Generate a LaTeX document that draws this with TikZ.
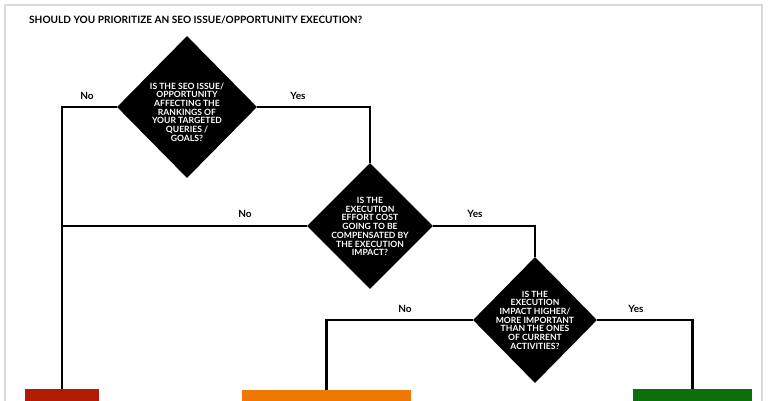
\documentclass[tikz,border=0pt]{standalone}
\usepackage{fontspec}
\setmainfont{Lato}
\usetikzlibrary{shapes.geometric}
\definecolor{framegray}{HTML}{D9D9D9}
\definecolor{boxred}{HTML}{B31B00}
\definecolor{boxorange}{HTML}{F07800}
\definecolor{boxgreen}{HTML}{0A6E0A}
\tikzset{
  decision/.style={diamond, fill=black, inner sep=0pt, draw=none},
  dtext/.style={text=white, font=\fontsize{8.6}{8.7}\selectfont\bfseries, align=center, inner sep=0pt},
  flow/.style={line width=2.6pt, draw=black},
  answer/.style={font=\fontsize{10}{11}\selectfont\bfseries, inner sep=0pt},
  outcome/.style={anchor=north, inner sep=0pt, minimum height=40pt}
}
\begin{document}
\begin{tikzpicture}[x=1pt,y=-1pt]
\useasboundingbox (0,0) rectangle (768,400);
\clip (0,0) rectangle (768,400);
\fill[white] (0,0) rectangle (768,400);
\draw[framegray, line width=2pt] (5,430) -- (5,5) -- (762,5) -- (762,430);
\node[anchor=west, inner sep=0pt, font=\fontsize{10.1}{12}\selectfont\bfseries] (title) at (29,20) {SHOULD YOU PRIORITIZE AN SEO ISSUE/OPPORTUNITY EXECUTION?};
% decisions
\node[decision, minimum width=140pt, minimum height=142pt] (d1) at (187,107) {};
\node[decision, minimum width=126pt, minimum height=126pt] (d2) at (370,226) {};
\node[decision, minimum width=124pt, minimum height=126pt] (d3) at (535,320) {};
\node[dtext] (t1) at ([yshift=-5pt]d1.center) {IS THE SEO ISSUE/\\OPPORTUNITY\\AFFECTING THE\\RANKINGS OF\\YOUR TARGETED\\QUERIES /\\GOALS?};
\node[dtext] (t2) at ([yshift=-0.5pt]d2.center) {IS THE\\EXECUTION\\EFFORT COST\\GOING TO BE\\COMPENSATED BY\\THE EXECUTION\\IMPACT?};
\node[dtext] (t3) at ([yshift=0pt]d3.center) {IS THE\\EXECUTION\\IMPACT HIGHER/\\MORE IMPORTANT\\THAN THE ONES\\OF CURRENT\\ACTIVITIES?};
% outcomes
\node[outcome, fill=boxred, minimum width=74pt] (red) at (62,389) {};
\node[outcome, fill=boxorange, minimum width=169pt] (orange) at (326.5,390) {};
\node[outcome, fill=boxgreen, minimum width=119pt] (green) at (692.5,389) {};
% connectors
\draw[flow] (d1.west) -| (red.north);
\draw[flow] (d2.west) -- (d2.west -| red.north);
\draw[flow] (d1.east) -| (d2.north);
\draw[flow] (d2.east) -| (d3.north);
\draw[flow] (d3.west) -| (orange.north);
\draw[flow] (d3.east) -| (green.north);
% labels
\node[answer] (n1) at (87,96) {No};
\node[answer] (y1) at (298,96) {Yes};
\node[answer] (n2) at (245,214) {No};
\node[answer] (y2) at (475,214) {Yes};
\node[answer] (n3) at (405,309) {No};
\node[answer] (y3) at (636,309) {Yes};
\end{tikzpicture}
\end{document}
